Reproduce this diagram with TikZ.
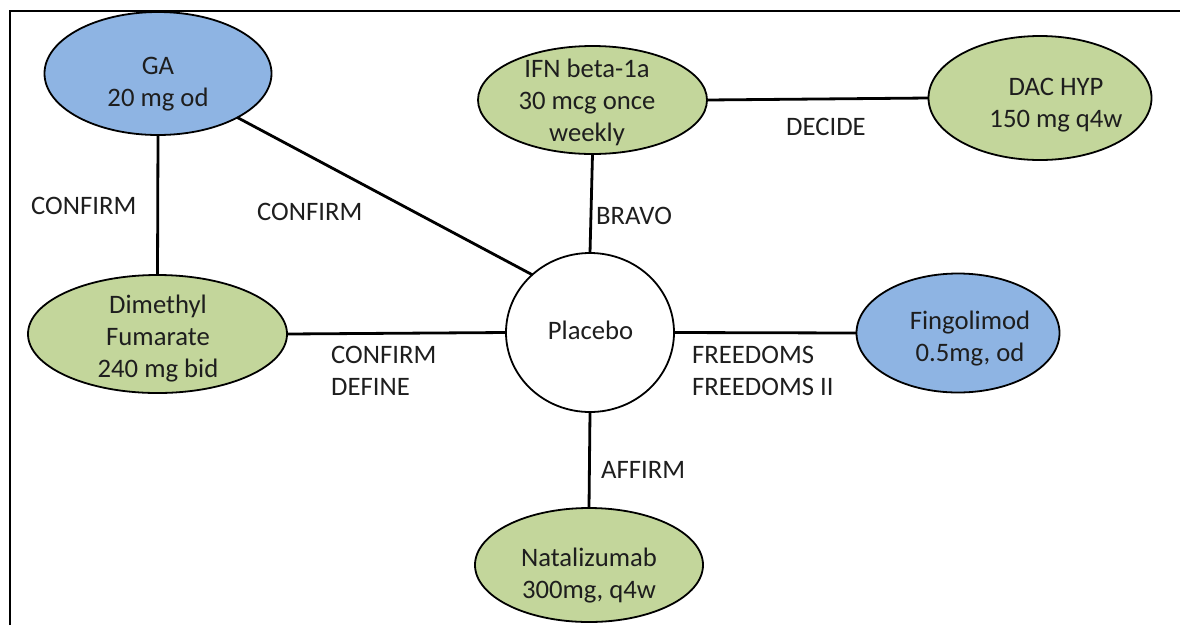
\documentclass[tikz,border=0pt]{standalone}
\usepackage{fontspec}
\setmainfont{Carlito}
\usetikzlibrary{shapes.geometric}
\definecolor{armgreen}{HTML}{C3D69B}
\definecolor{armblue}{HTML}{8EB4E3}
\definecolor{inktext}{HTML}{1E1E1E}
\tikzset{
  every node/.style={font=\fontsize{26.67}{32}\selectfont, text=inktext},
  arm/.style={ellipse, draw=black, line width=1.8pt, inner sep=0pt, outer sep=0pt},
  greenarm/.style={arm, fill=armgreen},
  bluearm/.style={arm, fill=armblue},
  armtext/.style={align=center, inner sep=0pt},
  trial/.style={align=left, inner sep=0pt, anchor=base west},
  link/.style={line width=2.8pt, draw=black}
}
\begin{document}
\begin{tikzpicture}[x=1pt,y=-1pt]
  \useasboundingbox (0,0) rectangle (1180,625);
  % frame
  \draw[line width=2pt] (10,625) -- (10,11) -- (1180,11);

  % treatment arms
  \node[bluearm, minimum width=227pt, minimum height=123pt] (ga) at (158,73.5) {};
  \node[greenarm, minimum width=229pt, minimum height=108pt] (ifn) at (592.5,100) {};
  \node[greenarm, minimum width=223pt, minimum height=124pt] (dac) at (1040,98) {};
  \node[greenarm, minimum width=259pt, minimum height=118pt] (dmf) at (157.5,334) {};
  \node[arm, fill=white, minimum width=168pt, minimum height=159pt] (pl) at (590,332.5) {};
  \node[bluearm, minimum width=203pt, minimum height=119pt] (fin) at (958,333) {};
  \node[greenarm, minimum width=228pt, minimum height=114pt] (nat) at (589,565) {};

  % arm texts
  \node[armtext] (ga-t) at (158,84) {GA\\20 mg od};
  \node[armtext] (ifn-t) at (587,102.5) {IFN beta-1a\\30 mcg once\\weekly};
  \node[armtext] (dac-t) at (1056,105) {DAC HYP\\150 mg q4w};
  \node[armtext] (dmf-t) at (158,339) {Dimethyl\\Fumarate\\240 mg bid};
  \node[armtext, anchor=base] (pl-t) at (590.5,339) {Placebo};
  \node[armtext] (fin-t) at (970,339) {Fingolimod\\0.5mg, od};
  \node[armtext] (nat-t) at (589,576) {Natalizumab\\300mg, q4w};

  % comparisons
  \draw[link] (ga.south) -- (dmf.north);
  \draw[link] (ga.-29) -- (pl.135);
  \draw[link] (ifn.east) -- (dac.west);
  \draw[link] (ifn.south) -- (pl.north);
  \draw[link] (dmf.east) -- (pl.west);
  \draw[link] (pl.east) -- (fin.west);
  \draw[link] (pl.south) -- (nat.north);

  % trial names (base anchor of a two-line node sits on its last line)
  \node[trial] (t-confirm1) at (31,214) {CONFIRM};
  \node[trial] (t-confirm2) at (257,220) {CONFIRM};
  \node[trial] (t-bravo) at (596,224) {BRAVO};
  \node[trial] (t-decide) at (786,135) {DECIDE};
  \node[trial] (t-confdef) at (331,395) {CONFIRM\\DEFINE};
  \node[trial] (t-freedoms) at (692,395) {FREEDOMS\\FREEDOMS II};
  \node[trial] (t-affirm) at (601,478) {AFFIRM};
\end{tikzpicture}
\end{document}
